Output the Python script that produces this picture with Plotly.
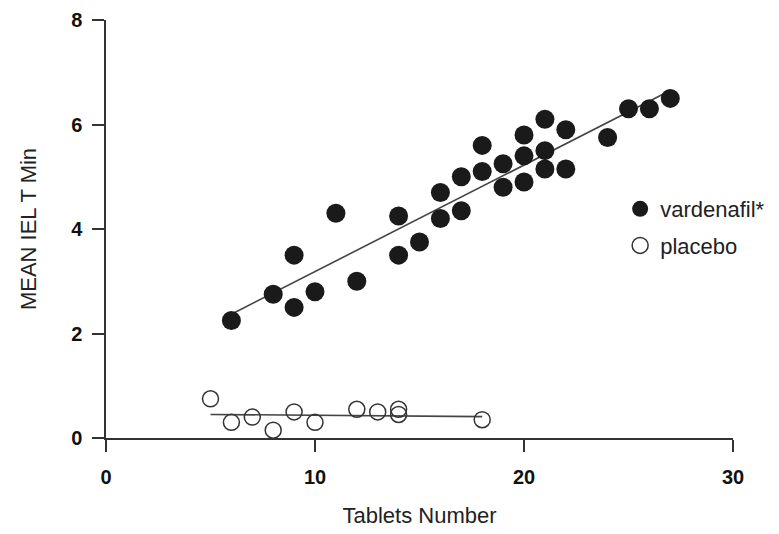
import plotly.graph_objects as go

# vardenafil (filled circles)
vard_x = [6, 8, 9, 9, 10, 11, 12, 14, 14, 15, 16, 16, 17, 17, 18, 18, 19, 19,
          20, 20, 20, 21, 21, 21, 22, 22, 24, 25, 26, 27]
vard_y = [2.25, 2.75, 3.5, 2.5, 2.8, 4.3, 3.0, 4.25, 3.5, 3.75, 4.7, 4.2, 5.0, 4.35,
          5.6, 5.1, 5.25, 4.8, 5.8, 5.4, 4.9, 6.1, 5.5, 5.15, 5.9, 5.15, 5.75, 6.3, 6.3, 6.5]

# placebo (open circles)
plac_x = [5, 6, 7, 8, 9, 10, 12, 13, 14, 14, 18]
plac_y = [0.75, 0.3, 0.4, 0.15, 0.5, 0.3, 0.55, 0.5, 0.55, 0.45, 0.35]

# fitted lines (end points)
vard_fit_x = [6, 27]
vard_fit_y = [2.37, 6.65]
plac_fit_x = [5, 18]
plac_fit_y = [0.45, 0.41]

x_ticks = [0, 10, 20, 30]
y_ticks = [0, 2, 4, 6, 8]

fig = go.Figure()
fig.add_trace(go.Scatter(x=vard_fit_x, y=vard_fit_y, mode="lines",
                         line=dict(color="#444444", width=1.6), showlegend=False, hoverinfo="skip"))
fig.add_trace(go.Scatter(x=plac_fit_x, y=plac_fit_y, mode="lines",
                         line=dict(color="#444444", width=1.6), showlegend=False, hoverinfo="skip"))
fig.add_trace(go.Scatter(x=vard_x, y=vard_y, mode="markers", name="vardenafil*", legendgroup="v",
                         marker=dict(size=19, color="#1a1a1a", line=dict(color="#1a1a1a", width=0))))
fig.add_trace(go.Scatter(x=plac_x, y=plac_y, mode="markers", name="placebo", legendgroup="p",
                         marker=dict(size=16, color="rgba(255,255,255,0)",
                                     line=dict(color="#333333", width=1.5))))

axis_common = dict(showgrid=False, zeroline=False, showline=True, linecolor="#333333",
                   linewidth=1.5, ticks="outside", ticklen=12, tickwidth=1.5, tickcolor="#333333",
                   automargin=False,
                   tickfont=dict(family="Liberation Sans", size=20, color="#111111", weight="bold"),
                   title_font=dict(family="Liberation Sans", size=22, color="#222222"))

fig.update_xaxes(range=[0, 30], tickvals=x_ticks, title_text="Tablets Number",
                 ticklabelstandoff=8, title_standoff=21, **axis_common)
fig.update_yaxes(range=[0, 8], tickvals=y_ticks, title_text="MEAN IEL T Min",
                 ticklabelstandoff=6, title_standoff=28, **axis_common)

fig.update_layout(
    width=779, height=534,
    margin=dict(l=98, r=54, t=12, b=104, autoexpand=False),
    plot_bgcolor="white", paper_bgcolor="white",
    legend=dict(x=0.82, y=0.598, xanchor="left", yanchor="top",
                font=dict(family="Liberation Sans", size=22, color="#222222"),
                bgcolor="rgba(0,0,0,0)", itemsizing="trace", tracegroupgap=5),
)

fig.write_html("out.html")
